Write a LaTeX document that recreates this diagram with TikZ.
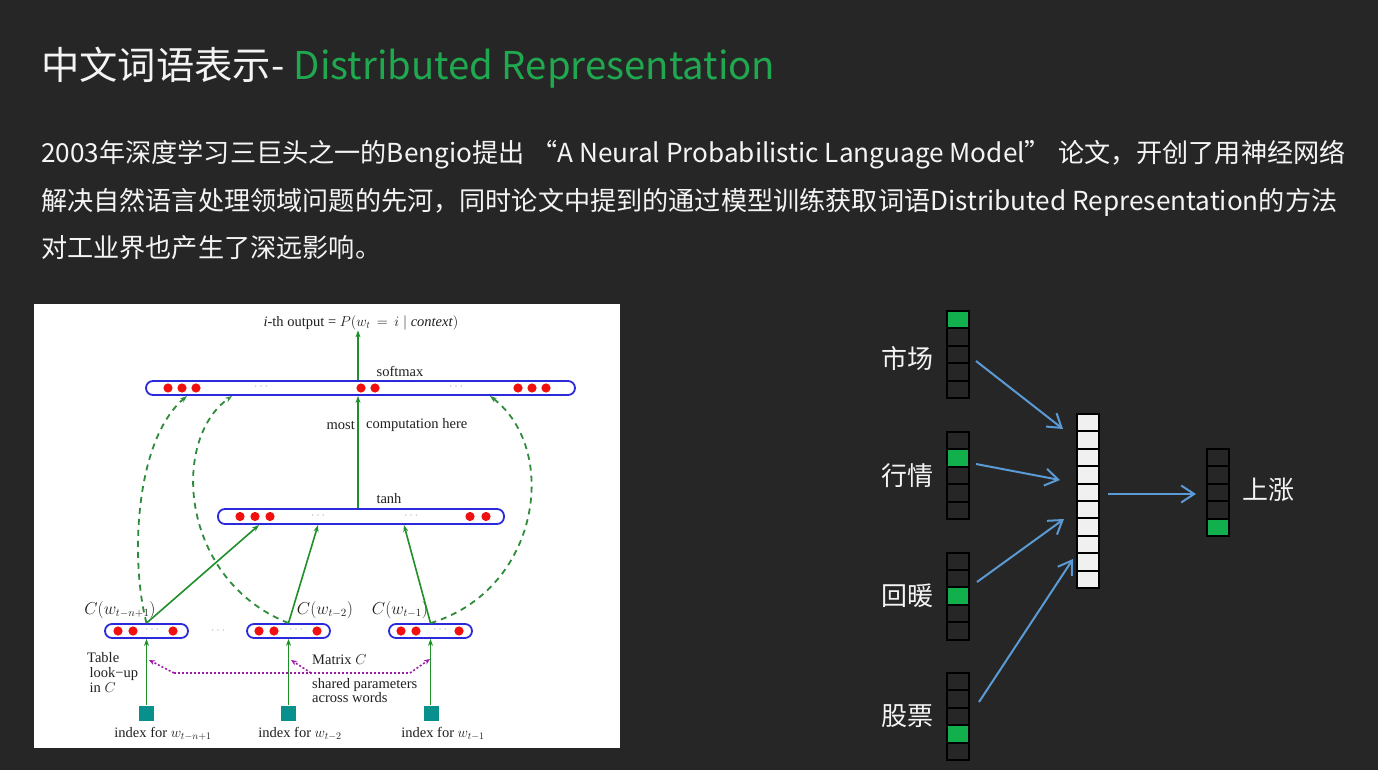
\documentclass[tikz,border=0pt]{standalone}
\usepackage{fontspec}
\setmainfont{Noto Sans CJK SC}
\newfontfamily\tms{Liberation Serif}
\usetikzlibrary{arrows.meta,calc}
\definecolor{bg}{HTML}{262626}
\definecolor{tgreen}{HTML}{1FA84F}
\definecolor{txt}{HTML}{F4F4F4}
\definecolor{barblue}{HTML}{2A2ADB}
\definecolor{dred}{HTML}{F01010}
\definecolor{lgreen}{HTML}{1F8F2A}
\definecolor{dgreen}{HTML}{2E8B3A}
\definecolor{teal1}{HTML}{07908C}
\definecolor{mag}{HTML}{A01AA8}
\definecolor{vgreen}{HTML}{12B04C}
\definecolor{ablue}{HTML}{5B9BD5}
\definecolor{hcell}{HTML}{F0F0F0}
\definecolor{dtext}{HTML}{202020}
\newcommand{\myvec}[5]{%
  \foreach \i in {1,...,#3} {%
    \pgfmathsetmacro{\yy}{#2+17.4*(\i-1)}%
    \ifnum\i=#4 \def\fc{vgreen}\else\def\fc{#5}\fi
    \filldraw[fill=\fc, draw=black, line width=2pt] (#1,\yy) rectangle ++(22,17.4);
  }%
}
\begin{document}
\begin{tikzpicture}[x=1pt,y=-1pt,
  bar/.style={draw=barblue, line width=1.8pt, fill=white, rounded corners=7pt, inner sep=0pt},
  rdot/.style={fill=dred},
  ell/.style={text=gray, font=\tms\fontsize{9}{9}\selectfont, inner sep=0pt},
  lab/.style={text=dtext, font=\tms\fontsize{14.5}{16}\selectfont, inner sep=0pt},
  clab/.style={text=dtext, font=\tms\fontsize{16}{18}\selectfont, inner sep=0pt},
  solidarr/.style={draw=lgreen, line width=1.6pt, -{Stealth[length=7pt,width=5pt]}},
  dasharr/.style={draw=dgreen, line width=1.8pt, dash pattern=on 6pt off 5pt, -{Stealth[length=7pt,width=5pt]}},
  magline/.style={draw=mag, line width=1.6pt, dash pattern=on 2pt off 2pt},
  magarr/.style={magline, -{Stealth[length=6pt,width=5pt]}},
  idx/.style={fill=teal1, minimum size=15pt, inner sep=0pt},
  slide/.style={text=txt, inner sep=0pt},
  barr/.style={draw=ablue, line width=2pt, -{Straight Barb[length=13pt,width=17pt]}},
  wlab/.style={text=txt, font=\fontsize{26}{28}\selectfont, inner sep=0pt}
]
\useasboundingbox (0,0) rectangle (1378,770);
\fill[bg] (0,0) rectangle (1378,770);

% title
\node[slide, anchor=base west, font=\fontsize{38.3}{40}\selectfont] (title) at (41,80)
  {中文词语表示-\hspace{1pt} \textcolor{tgreen}{Distributed Representation}};
% body
\node[slide, anchor=base west, font=\fontsize{26.15}{28}\selectfont] (l1) at (41,163)
  {2003年深度学习三巨头之一的Bengio提出\hspace{7pt}“A Neural Probabilistic Language Model”\hspace{7pt}论文，开创了用神经网络};
\node[slide, anchor=base west, font=\fontsize{26.15}{28}\selectfont] (l2) at (41,211)
  {解决自然语言处理领域问题的先河，同时论文中提到的通过模型训练获取词语Distributed Representation的方法};
\node[slide, anchor=base west, font=\fontsize{26.15}{28}\selectfont] (l3) at (41,257)
  {对工业界也产生了深远影响。};

% ---------- left figure ----------
\fill[white] (34,304) rectangle (620,748);

\node[lab] (out) at (361,323) {\textit{i}-th output = $P(w_t\,=\,i\mid$ \textit{context}$)$};
\node[bar, minimum width=429pt, minimum height=14pt] (soft) at (360.5,388) {};
\node[lab] (softlab) at (400,371) {softmax};
\foreach \x in {168,182,196,361,375,518,532,546} \fill[rdot] (\x,388) circle[radius=4.6pt];
\node[ell] (e1) at (261,388) {· · ·};
\node[ell] (e2) at (456,388) {· · ·};

\node[bar, minimum width=286pt, minimum height=15pt] (tanh) at (361,516.5) {};
\node[lab] (tanhlab) at (389,499) {tanh};
\foreach \x in {240,255,270,470,486} \fill[rdot] (\x,516.5) circle[radius=4.6pt];
\node[ell] (e3) at (318,516.5) {· · ·};
\node[ell] (e4) at (411,516.5) {· · ·};

\node[lab, anchor=east] (most) at (355,425) {most};
\node[lab, anchor=west] (comp) at (366,425) {computation here};

\coordinate (ox) at (358,0);
\draw[solidarr] (tanh.north -| ox) -- (soft.south -| ox);
\draw[solidarr] (soft.north -| ox) -- (out.south -| ox);

% small bars
\node[bar, minimum width=83pt, minimum height=14pt] (cA) at (146.5,631) {};
\node[bar, minimum width=83pt, minimum height=14pt] (cB) at (288.5,631) {};
\node[bar, minimum width=83pt, minimum height=14pt] (cC) at (430.5,631) {};
\foreach \x in {118,133,173, 259,274,317, 401,416,459} \fill[rdot] (\x,631) circle[radius=4.6pt];
\node[ell] (e5) at (152,631) {· · ·};
\node[ell] (e6) at (296,631) {· · ·};
\node[ell] (e7) at (440,631) {· · ·};
\node[ell] (e8) at (218,632) {· · ·};

\node[clab] (cAl) at (120,610) {$C(w_{t-n+1})$};
\node[clab] (cBl) at (325,610) {$C(w_{t-2})$};
\node[clab] (cCl) at (400,610) {$C(w_{t-1})$};

% index squares
\node[idx] (iA) at (146.5,713) {};
\node[idx] (iB) at (288.5,713) {};
\node[idx] (iC) at (431.5,713) {};
\node[lab] (iAl) at (163,734) {index for $w_{t-n+1}$};
\node[lab] (iBl) at (300,734) {index for $w_{t-2}$};
\node[lab] (iCl) at (443,734) {index for $w_{t-1}$};

\draw[solidarr] (iA.north) -- (cA.south);
\draw[solidarr] (iB.north) -- (cB.south);
\draw[solidarr] (iC.north -| cC.south) -- (cC.south);

% to tanh
\coordinate (tA) at (259,525);
\coordinate (tB) at (318,525);
\coordinate (tC) at (404,525);
\draw[solidarr] (cA.north) -- (tA);
\draw[solidarr] (cB.north) -- (tB);
\draw[solidarr] (cC.north) -- (tC);

% dashed to softmax
\coordinate (sA) at (187,396);
\coordinate (sB) at (232,396);
\coordinate (sC) at (490,396);
\draw[dasharr] (cA.north) .. controls (130,560) and (135,440) .. (sA);
\draw[dasharr] (cB.north) .. controls (180,580) and (170,440) .. (sB);
\draw[dasharr] (cC.north) .. controls (540,590) and (560,450) .. (sC);

% labels
\node[lab, anchor=north west, align=left] (tbl) at (87,652) {Table\\[-1pt]\,look−up\\[-1pt]\,in $C$};
\node[lab, anchor=west] (matc) at (312,660) {Matrix $C$};
\node[lab, anchor=north west, align=left] (shp) at (312,678) {shared parameters\\[-2pt]across words};

% magenta dotted
\coordinate (mA) at (174,673);
\coordinate (mB) at (311,673);
\coordinate (mC) at (410,673);
\coordinate (pA) at (149,660);
\coordinate (pB) at (291,660);
\coordinate (pC) at (430,659);
\draw[magline] (mA) -- (mC);
\draw[magarr] (mA) -- (pA);
\draw[magarr] (mB) -- (pB);
\draw[magarr] (mC) -- (pC);

% ---------- right figure ----------
\myvec{947}{311}{5}{1}{bg}
\myvec{947}{432}{5}{2}{bg}
\myvec{947}{552.5}{5}{3}{bg}
\myvec{947}{673}{5}{4}{bg}
\myvec{1077}{414}{10}{0}{hcell}
\myvec{1207}{449}{5}{5}{bg}

\node[wlab] (w1) at (907,359) {市场};
\node[wlab] (w2) at (907,476) {行情};
\node[wlab] (w3) at (907,596) {回暖};
\node[wlab] (w4) at (907,716) {股票};
\node[wlab] (w5) at (1268,490) {上涨};

\coordinate (s1) at (976,361); \coordinate (f1) at (1063,429);
\coordinate (s2) at (976,464); \coordinate (f2) at (1060,480);
\coordinate (s3) at (977,582); \coordinate (f3) at (1064,519);
\coordinate (s4) at (979,702); \coordinate (f4) at (1073,559);
\coordinate (s5) at (1108,494); \coordinate (f5) at (1196,494);
\draw[barr] (s1) -- (f1);
\draw[barr] (s2) -- (f2);
\draw[barr] (s3) -- (f3);
\draw[barr] (s4) -- (f4);
\draw[barr] (s5) -- (f5);
\end{tikzpicture}
\end{document}
